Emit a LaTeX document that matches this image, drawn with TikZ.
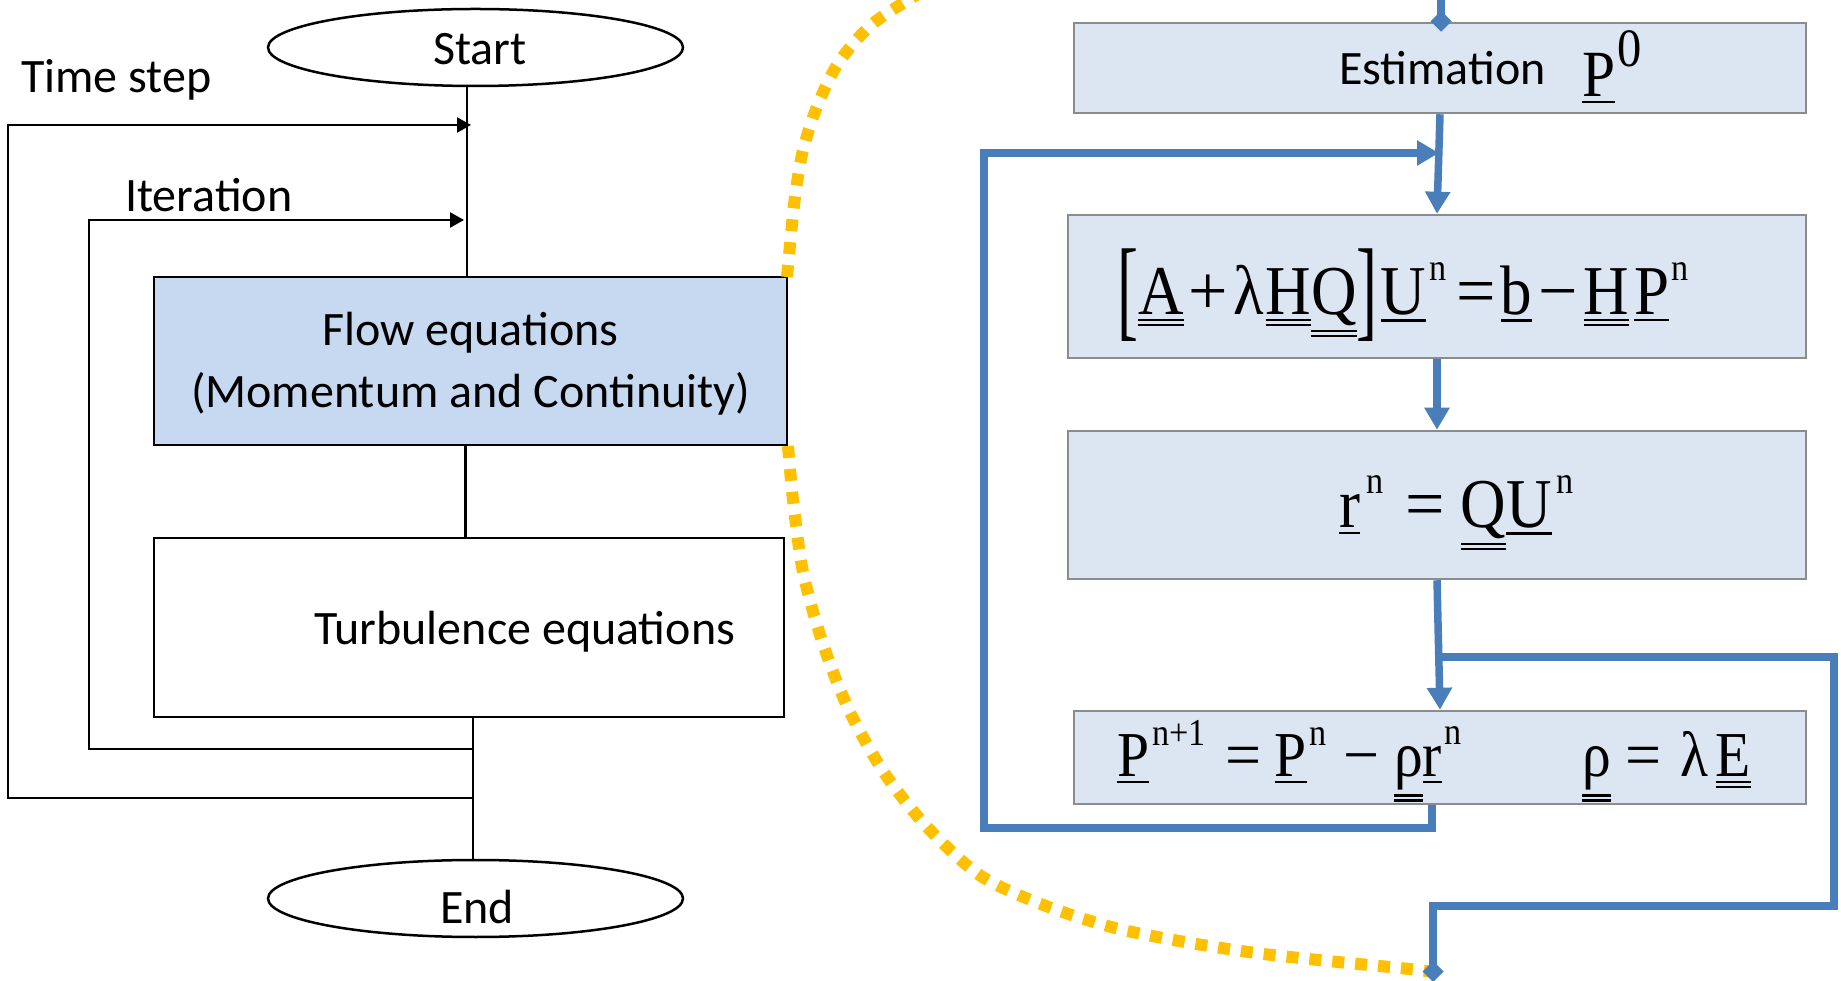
\documentclass[tikz,border=0pt]{standalone}
\usepackage{fontspec}
\usepackage{graphicx}
\setmainfont{Carlito}
\newfontfamily\eqfont[FakeStretch=0.9]{Liberation Serif}
\newfontfamily\opfont{Liberation Serif}
\usetikzlibrary{shapes.geometric,arrows.meta}
\definecolor{flowfill}{HTML}{C6D9F1}
\definecolor{eqfill}{HTML}{DCE6F2}
\definecolor{eqborder}{HTML}{8C8C8C}
\definecolor{lineblue}{HTML}{4A7EBB}
\definecolor{gold}{HTML}{FFC000}
\newcommand\Vb[1]{\setbox0\hbox{#1}\rlap{\rule[\dimexpr-\dp0-6pt\relax]{\wd0}{2.4pt}}\box0}
\newcommand\Mb[1]{\setbox0\hbox{#1}\rlap{\rule[\dimexpr-\dp0-6pt\relax]{\wd0}{2.2pt}}\rlap{\rule[\dimexpr-\dp0-11pt\relax]{\wd0}{2.2pt}}\box0}
\newcommand\Op[1]{{\opfont#1}}
\newcommand\Sp[1]{\raisebox{34pt}{\fontsize{38}{38}\selectfont#1}}
\newcommand\Spb[1]{\raisebox{32pt}{\fontsize{38}{38}\selectfont#1}}
\newcommand\LB{\raisebox{-12pt}{\scalebox{1}[1.6]{[}}}
\newcommand\RB{\raisebox{-12pt}{\scalebox{1}[1.6]{]}}}
\begin{document}
\begin{tikzpicture}[x=1pt,y=1pt,
  lbl/.style={inner sep=0pt, font=\fontsize{48}{56}\selectfont},
  term/.style={ellipse, draw=black, line width=2.5pt, minimum width=415pt, minimum height=77pt, inner sep=0pt},
  procbox/.style={rectangle, draw=black, line width=2.8pt, inner sep=0pt},
  eqbox/.style={rectangle, draw=eqborder, fill=eqfill, line width=2.5pt, inner sep=0pt},
  blk/.style={draw=black, line width=2.3pt},
  blkarrow/.style={blk, -{Triangle[length=14pt,width=15pt]}},
  blu/.style={draw=lineblue, line width=7.5pt},
  bluarrow/.style={blu, -{Triangle[length=22pt,width=24pt]}},
  bludiam/.style={blu, -{Diamond[length=21pt,width=21pt]}},
  zoomcurve/.style={draw=gold, line width=12pt, dash pattern=on 12pt off 11pt},
  eqtxt/.style={inner sep=0pt, anchor=base west}
]
\useasboundingbox (0,0) rectangle (1841,980);
\clip (0,0) rectangle (1841,980);
\fill[white] (0,0) rectangle (1841,980);

% left flowchart
\node[term] (start) at (475.5,932.5) {};
\node[lbl, anchor=base] (tstart) at (480,915) {Start};
\node[term] (end) at (475.5,81.5) {};
\node[lbl, anchor=base] (tend) at (477,57) {End};
\node[procbox, fill=flowfill, minimum width=633pt, minimum height=168pt] (flow) at (470.5,619) {};
\node[lbl, anchor=base] (tflow1) at (470.5,634) {Flow equations};
\node[lbl, anchor=base] (tflow2) at (470.5,572) {(Momentum and Continuity)};
\node[procbox, fill=white, minimum width=630pt, minimum height=179pt] (turb) at (469,352.5) {};
\node[lbl, anchor=base west] (tturb) at (314,335) {Turbulence equations};
\node[lbl, anchor=base west] (ttime) at (21,887) {Time step};
\node[lbl, anchor=base west] (titer) at (125,768) {Iteration};

\path (start.south) ++(-8.5,0) coordinate (s1);
\draw[blk] (s1) -- (s1 |- flow.north);
\path (flow.south) ++(-5,0) coordinate (f1);
\draw[blk] (f1) -- (f1 |- turb.north);
\path (turb.south) ++(4,0) coordinate (t1);
\draw[blk] (t1) -- (t1 |- end.north);

\coordinate (tsB) at (8,182);
\coordinate (tsT) at (8,855);
\coordinate (tsTip) at (471,855);
\draw[blkarrow] (t1 |- tsB) -- (tsB) -- (tsT) -- (tsTip);
\coordinate (itB) at (89,231);
\coordinate (itT) at (89,760);
\coordinate (itTip) at (464,760);
\draw[blkarrow] (t1 |- itB) -- (itB) -- (itT) -- (itTip);

% zoom curves
\draw[zoomcurve] plot[smooth] coordinates {(787,703) (790,735) (795,783) (803,830) (818,876) (839,918) (870,954) (908,980) (935,995)};
\draw[zoomcurve] plot[smooth] coordinates {(788,534) (793,480) (803,408) (822,339) (848,272) (883,209) (927,153) (981,104) (1046,74) (1115,52) (1185,38) (1256,27) (1328,19) (1400,12) (1435,8)};

% right side
\node[eqbox, minimum width=732pt, minimum height=90pt] (est) at (1440,912) {};
\node[eqbox, minimum width=738pt, minimum height=143pt] (eqA) at (1437,693.5) {};
\node[eqbox, minimum width=738pt, minimum height=148pt] (eqR) at (1437,475) {};
\node[eqbox, minimum width=732pt, minimum height=93pt] (eqP) at (1440,222.5) {};

\node[lbl, anchor=base west] (test) at (1339,895) {Estimation};
\node[eqtxt] (tp0) at (1582,883) {\eqfont\fontsize{66}{66}\selectfont\Vb{P}\hspace{2pt}\raisebox{30pt}{\fontsize{54}{54}\selectfont 0}};
\node[eqtxt] (e1) at (1117,665) {\eqfont\fontsize{70}{70}\selectfont\LB\Mb{A}\hspace{5pt}\Op{+}\hspace{5pt}λ\hspace{2pt}\Mb{H}\Mb{Q}\RB\hspace{3pt}\Vb{U}\hspace{3pt}\Sp{n}\hspace{10pt}\Op{=}\hspace{5pt}\Vb{b}\hspace{6pt}\Op{−}\hspace{6pt}\Mb{H}\hspace{5pt}\Vb{P}\hspace{2pt}\Sp{n}};
\node[eqtxt] (e2) at (1339,452) {\eqfont\fontsize{70}{70}\selectfont\Vb{r}\hspace{6pt}\Sp{n}\hspace{22pt}\Op{=}\hspace{16pt}\Mb{Q}\Vb{U}\hspace{5pt}\Sp{n}};
\node[eqtxt] (e3a) at (1117,203) {\eqfont\fontsize{64}{64}\selectfont\Vb{P}\hspace{3pt}\Spb{n+1}\hspace{20pt}\Op{=}\hspace{13pt}\Vb{P}\hspace{3pt}\Spb{n}\hspace{17pt}\Op{−}\hspace{14pt}\Mb{ρ}\Vb{r}\hspace{3pt}\Spb{n}};
\node[eqtxt] (e3b) at (1582,203) {\eqfont\fontsize{64}{64}\selectfont\Mb{ρ}\hspace{15pt}\Op{=}\hspace{18pt}λ\hspace{8pt}\Mb{E}};

\coordinate (topin) at (1441,990);
\draw[bludiam, shorten >=-10pt] (topin) -- (topin |- est.north);
\draw[bluarrow] (est.south) -- (eqA.north);
\draw[bluarrow] (eqA.south) -- (eqR.north);
\draw[bluarrow] (eqR.south) -- (eqP.north);

\coordinate (jR) at (1440,323);
\coordinate (rTop) at (1834,323);
\coordinate (rBot) at (1834,74);
\coordinate (exitTurn) at (1433,74);
\coordinate (exitEnd) at (1433,-2);
\draw[bludiam] (jR) -- (rTop) -- (rBot) -- (exitTurn) -- (exitEnd);

\path (eqP.south) ++(-8,0) coordinate (pB);
\coordinate (lBL) at (984,152);
\coordinate (lTL) at (984,827);
\coordinate (lTip) at (1439,827);
\draw[bluarrow] (pB) -- (pB |- lBL) -- (lBL) -- (lTL) -- (lTip);
\end{tikzpicture}
\end{document}
